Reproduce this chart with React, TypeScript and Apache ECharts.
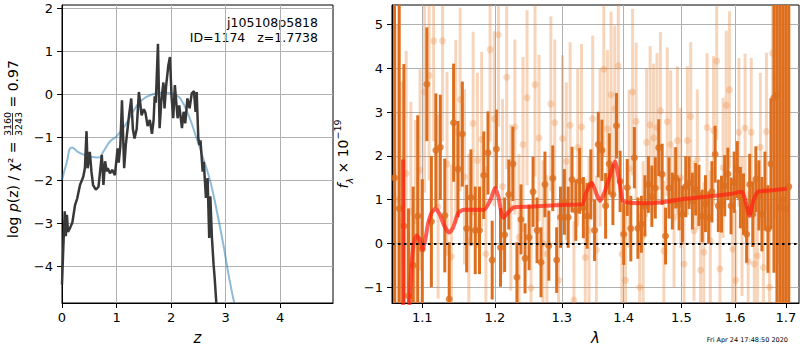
import React, { useEffect, useRef } from 'react';
import * as echarts from 'echarts';

// ---------- left panel: p(z) ----------
const pzZ = [0.0, 0.02, 0.05, 0.07, 0.09, 0.11, 0.15, 0.19, 0.24, 0.28, 0.33, 0.39, 0.42, 0.45, 0.47, 0.51, 0.54, 0.57, 0.62, 0.67, 0.73, 0.76, 0.79, 0.82, 0.84, 0.88, 0.92, 0.97, 1.02, 1.04, 1.07, 1.10, 1.14, 1.17, 1.23, 1.27, 1.30, 1.33, 1.37, 1.41, 1.46, 1.50, 1.53, 1.57, 1.61, 1.65, 1.68, 1.70, 1.72, 1.76, 1.79, 1.82, 1.86, 1.88, 1.91, 1.95, 1.98, 2.01, 2.04, 2.07, 2.12, 2.15, 2.20, 2.23, 2.26, 2.30, 2.34, 2.38, 2.42, 2.45, 2.47, 2.50, 2.52, 2.54, 2.58, 2.60, 2.64, 2.67, 2.70, 2.72, 2.75, 2.78, 2.80, 2.83];
const pzLog = [-4.42, -3.70, -2.72, -3.30, -2.80, -3.20, -3.10, -2.98, -2.57, -2.42, -2.11, -1.92, -1.72, -0.86, -1.72, -1.34, -1.80, -2.11, -2.22, -2.15, -1.41, -2.11, -1.56, -1.79, -1.72, -1.84, -1.76, -1.88, -1.26, -1.59, -1.20, -0.14, -1.72, -1.18, -0.49, -0.10, -0.81, -1.03, -0.81, 0.05, -0.49, -0.35, -0.43, -0.74, -0.60, -0.92, -0.60, -0.05, -0.20, 1.17, -0.79, -0.18, 0.27, -0.33, 0.20, 0.67, 0.86, -0.07, -0.56, 0.21, -0.56, -0.26, -0.79, -0.41, -0.68, -0.10, -0.33, 0.02, 0.07, -0.41, 0.05, -1.03, -1.18, -1.07, -1.80, -1.57, -2.41, -1.95, -3.34, -2.37, -3.34, -3.96, -4.27, -4.85];

const priorZ = [0.0, 0.09, 0.18, 0.33, 0.51, 0.67, 0.76, 0.88, 1.0, 1.16, 1.31, 1.46, 1.65, 1.89, 2.07, 2.17, 2.32, 2.47, 2.59, 2.72, 2.84, 2.96, 3.07, 3.16];
const priorLog = [-2.0, -1.57, -1.24, -1.37, -1.45, -1.47, -1.33, -1.10, -0.98, -0.72, -0.39, -0.14, -0.01, 0.04, -0.02, -0.10, -0.49, -1.03, -1.49, -2.03, -2.72, -3.50, -4.30, -4.85];

const zTicks = [0, 1, 2, 3, 4];
const logTicks = [-4, -3, -2, -1, 0, 1, 2];

// ---------- right panel: spectrum ----------
const darkStart = 1.064;
const darkStep = 0.006;
const darkFlux = [1.5, 0.8, 0.4, -1.2, -0.5, 0.63, -0.13, 3.64, 0.5, 2.13,
  2.20, 0.64, -1.27, 2.76, 1.70, 2.50, 0.34, 1.05, 0.30, 0.3,
  1.56, 2.07, -0.38, 2.16, -0.09, 0.2, 1.12, 1.82, -0.77, 0.55,
  -0.34, 0.14, 1.18, 0.30, -0.43, 1.35, -0.05, 1.49, -0.38, 0.6,
  0.95, 0.6, 1.46, 0.76, 1.43, 0.82, 0.63, 1.35, 0.3, 2.26,
  2.13, 0.86, 1.82, 1.12, 2.69, 1.42, 0.21, 1.28, 0.34, 1.96,
  0.35, 0.44, 0.86, 1.35, 1.08, 1.27, 2.19, 1.58, 0.17, 1.27,
  0.97, 1.5, 0.9, 0.67, 1.3, 1.39, 0.97, 1.24, 1.1, 0.63,
  0.91, 0.59, 1.18, 2.04, 0.86, 0.90, 1.32, 1.59, 0.86, 1.4,
  1.69, 1.05, 0.9, 0.21, 1.35, 0.67, 1.47, 1.1, 0.67, 1.2,
  0.33, 1.82, 3.33, 3.40, 0.82, 1.0, 0.8, 1.30];
const darkErr = [5, 5, 3.7, 2.0, 1.8, 2.3, 1.6, 1.3, 1.5, 1.3,
  1.2, 1.3, 1.3, 1.35, 1.1, 1.2, 1.0, 1.1, 1.0, 1.0,
  1.0, 0.95, 0.9, 0.9, 0.9, 0.85, 0.8, 0.85, 0.8, 0.8,
  0.8, 0.75, 0.8, 0.75, 0.8, 0.75, 0.8, 0.75, 0.75, 0.7,
  0.75, 0.7, 0.75, 0.7, 0.75, 0.7, 0.75, 0.8, 0.7, 0.75,
  0.7, 0.75, 0.7, 0.7, 0.75, 0.7, 0.7, 0.65, 0.75, 0.7,
  0.7, 0.65, 0.7, 0.65, 0.7, 0.7, 0.65, 0.7, 0.65, 0.7,
  0.65, 0.7, 0.6, 0.65, 0.7, 0.6, 0.65, 0.6, 0.7, 0.6,
  0.65, 0.6, 0.7, 0.65, 0.6, 0.65, 0.7, 0.6, 0.65, 0.7,
  0.65, 0.7, 0.7, 0.65, 0.7, 0.75, 0.75, 0.8, 0.85, 0.9,
  1.0, 1.5, 4.0, 5.0, 6.0, 6.0, 7.0, 6.0];

const lightStart = 1.067;
const lightStep = 0.006;
const lightFlux = [1.0, 0.5, 1.6, 0.74, 0.52, 1.68, 3.46, 3.84, 4.63, 0.84,
  4.63, 1.82, -0.3, 2.55, 3.29, 1.52, 0.05, 2.74, 1.9, 2.38,
  -0.24, 4.43, 2.85, 4.77, 1.3, 3.80, 0.82, 2.66, 0.14, 2.26,
  3.33, -1.02, 3.63, 2.41, 0.0, -0.24, 3.19, 2.76, -0.84, 2.4,
  1.88, 2.7, -1.29, 2.19, 2.66, -0.32, 0.29, 2.85, -0.15, 2.19,
  3.98, 2.62, 3.40, 3.08, 4.06, -0.24, -0.84, 1.71, 3.46, 2.79,
  -1.0, 0.18, 2.31, 2.71, 2.41, 2.65, 3.03, -0.17, 2.78, 2.26,
  0.6, 2.35, 1.5, -0.47, 2.35, 2.90, 0.29, 1.92, -0.61, -0.2,
  2.65, 0.06, 2.58, 4.17, -0.58, 1.73, 3.16, 3.51, -0.13, -0.84,
  2.54, 0.40, 2.64, -0.41, 2.54, -0.47, -0.28, 2.2, -0.55, 2.56,
  -1.0, 4.35, 3.78, 3.55, 1.0, 0.5, 1.5];
const lightErr = [4, 3.2, 2.8, 2.5, 2.3, 2.3, 2.3, 2.4, 2.3, 2.1,
  2.3, 2.1, 2.1, 2.1, 2.1, 2.0, 2.0, 2.1, 2.0, 2.0,
  2.0, 2.1, 2.0, 2.1, 2.0, 2.1, 1.9, 2.0, 1.9, 2.0,
  2.0, 1.9, 2.1, 1.9, 1.9, 1.8, 2.0, 1.9, 1.8, 1.9,
  1.8, 1.9, 1.8, 1.8, 1.9, 1.8, 1.7, 1.9, 1.7, 1.8,
  2.0, 1.8, 1.9, 1.9, 2.0, 1.7, 1.7, 1.8, 1.9, 1.8,
  1.7, 1.7, 1.7, 1.8, 1.7, 1.7, 1.8, 1.6, 1.7, 1.7,
  1.6, 1.7, 1.6, 1.6, 1.7, 1.7, 1.6, 1.6, 1.6, 1.6,
  1.7, 1.6, 1.7, 1.8, 1.6, 1.6, 1.7, 1.8, 1.6, 1.6,
  1.7, 1.6, 1.7, 1.6, 1.7, 1.6, 1.6, 1.7, 1.7, 1.8,
  1.9, 2.3, 3.2, 4.0, 5.0, 5.0, 5.0];

const modelLam = [1.0749, 1.0759, 1.0815, 1.0855, 1.0885, 1.0925, 1.0965, 1.1005, 1.1040, 1.1075, 1.1118, 1.1175, 1.1230, 1.1295, 1.1360, 1.1410, 1.1485, 1.1560, 1.1700, 1.1845, 1.1939, 1.2000, 1.2048, 1.2121, 1.2267, 1.2500, 1.3000, 1.3325, 1.3382, 1.3474, 1.3555, 1.3609, 1.3690, 1.3789, 1.3856, 1.3939, 1.3986, 1.4107, 1.4400, 1.4700, 1.5000, 1.5300, 1.5600, 1.5900, 1.6126, 1.6222, 1.6273, 1.6351, 1.6437, 1.6560, 1.7018];
const modelFlux = [1.92, -3.0, -2.0, -0.6, -0.02, 0.18, 0.10, -0.15, 0.10, 0.44, 0.68, 0.80, 0.67, 0.40, 0.25, 0.35, 0.70, 0.77, 0.77, 0.77, 1.01, 1.27, 1.08, 0.59, 0.82, 0.84, 0.88, 0.90, 1.16, 1.39, 1.12, 0.97, 1.20, 1.62, 1.88, 1.31, 0.97, 0.93, 0.92, 0.95, 1.01, 1.05, 1.09, 1.13, 1.18, 0.86, 0.63, 0.97, 1.18, 1.20, 1.25];

const lamTicks = [1.1, 1.2, 1.3, 1.4, 1.5, 1.6, 1.7];
const fluxTicks = [-1, 0, 1, 2, 3, 4, 5];

const FONT = 'DejaVu Sans';
const minus = (v: number) => (v < 0 ? '\u2212' + Math.abs(v) : String(v));

function errBarRenderer(color: string, width: number, ymin: number, ymax: number) {
  return (params: any, api: any) => {
    const x = api.value(0);
    const y = api.value(1);
    const e = api.value(2);
    const lo = Math.max(ymin, y - e);
    const hi = Math.min(ymax, y + e);
    const a = api.coord([x, lo]);
    const b = api.coord([x, hi]);
    return {
      type: 'line',
      shape: { x1: a[0], y1: a[1], x2: b[0], y2: b[1] },
      style: { stroke: color, lineWidth: width },
    };
  };
}

export default function App() {
  const ref = useRef<HTMLDivElement>(null);
  useEffect(() => {
    const chart = echarts.init(ref.current!, null, { renderer: 'svg' });
    const FMIN = -1.36, FMAX = 5.45;
    const darkData = darkFlux.map((f, i) => [Math.log(darkStart + darkStep * i), f, darkErr[i]]);
    const lightData = lightFlux.map((f, i) => [Math.log(lightStart + lightStep * i), f, lightErr[i]]);
    const axisBase = {
      axisLine: { show: true, onZero: false, lineStyle: { color: '#000', width: 1 } },
      axisTick: { show: true, length: 5, lineStyle: { color: '#000' } },
      splitLine: { show: true, lineStyle: { color: '#b0b0b0', width: 1 } },
    };
    const labelBase = { color: '#000', fontSize: 13, fontFamily: FONT };
    const option: any = {
      animation: false,
      textStyle: { fontFamily: FONT },
      grid: [
        { left: 62, top: 5, width: 271, height: 299, show: true, borderColor: '#000', borderWidth: 1 },
        { left: 392, top: 5, width: 407, height: 299, show: true, borderColor: '#000', borderWidth: 1 },
      ],
      xAxis: [
        {
          ...axisBase, gridIndex: 0, type: 'value', min: 0, max: 4.97,
          axisTick: { ...axisBase.axisTick, customValues: zTicks },
          axisLabel: { ...labelBase, margin: 8, customValues: zTicks, formatter: minus },
          name: 'z', nameLocation: 'middle', nameGap: 27,
          nameTextStyle: { fontSize: 15, fontStyle: 'italic', fontFamily: FONT, color: '#000' },
        },
        {
          ...axisBase, gridIndex: 1, type: 'value', min: Math.log(1.0608), max: Math.log(1.727),
          axisTick: { ...axisBase.axisTick, customValues: lamTicks.map(Math.log) },
          axisLabel: { ...labelBase, margin: 8, customValues: lamTicks.map(Math.log), formatter: (v: number) => Math.exp(v).toFixed(1) },
          name: 'λ', nameLocation: 'middle', nameGap: 27,
          nameTextStyle: { fontSize: 15, fontStyle: 'italic', fontFamily: FONT, color: '#000' },
        },
      ],
      yAxis: [
        {
          ...axisBase, gridIndex: 0, type: 'value', min: -4.85, max: 2.07,
          axisTick: { ...axisBase.axisTick, customValues: logTicks },
          axisLabel: { ...labelBase, margin: 9, customValues: logTicks, formatter: minus },
        },
        {
          ...axisBase, gridIndex: 1, type: 'value', min: FMIN, max: FMAX,
          axisTick: { ...axisBase.axisTick, customValues: fluxTicks },
          axisLabel: { ...labelBase, margin: 9, customValues: fluxTicks, formatter: minus },
        },
      ],
      series: [
        {
          type: 'line', xAxisIndex: 0, yAxisIndex: 0, smooth: true, showSymbol: false, clip: true,
          data: priorZ.map((z, i) => [z, priorLog[i]]),
          lineStyle: { color: 'rgba(31,119,180,0.5)', width: 2 },
        },
        {
          type: 'line', xAxisIndex: 0, yAxisIndex: 0, showSymbol: false, clip: true,
          data: pzZ.map((z, i) => [z, pzLog[i]]),
          lineStyle: { color: '#383838', width: 2.5 },
        },
        {
          type: 'custom', xAxisIndex: 1, yAxisIndex: 1, clip: true,
          renderItem: errBarRenderer('rgba(232,128,50,0.33)', 3, FMIN, FMAX),
          encode: { x: 0, y: 1 }, data: lightData, z: 2,
        },
        {
          type: 'scatter', xAxisIndex: 1, yAxisIndex: 1, symbolSize: 7, clip: true,
          data: lightData.map((d) => [d[0], d[1]]),
          itemStyle: { color: 'rgba(232,128,50,0.35)' }, z: 2,
        },
        {
          type: 'custom', xAxisIndex: 1, yAxisIndex: 1, clip: true,
          renderItem: errBarRenderer('#dc6e1e', 3, FMIN, FMAX),
          encode: { x: 0, y: 1 }, data: darkData, z: 3,
        },
        {
          type: 'scatter', xAxisIndex: 1, yAxisIndex: 1, symbolSize: 7, clip: true,
          data: darkData.map((d) => [d[0], d[1]]),
          itemStyle: { color: '#dc6e1e' }, z: 3,
        },
        {
          type: 'line', xAxisIndex: 1, yAxisIndex: 1, showSymbol: false, clip: true, smooth: 0.2, z: 4,
          data: modelLam.map((l, i) => [Math.log(l), modelFlux[i]]),
          lineStyle: { color: 'rgba(255,35,20,0.72)', width: 4 },
          markLine: {
            silent: true, symbol: 'none', label: { show: false },
            data: [{ yAxis: 0 }],
            lineStyle: { color: '#000', type: [2.5, 3.5], width: 2 },
          },
        },
      ],
      graphic: [
        {
          type: 'group', x: 13, y: 143, rotation: Math.PI / 2,
          children: [
            {
              type: 'text', x: 6, y: 0,
              style: {
                text: '{n|log }{i|p}{n|(z) / χ² = }',
                rich: {
                  n: { fontSize: 14, fontFamily: FONT, fill: '#000' },
                  i: { fontSize: 14, fontFamily: FONT, fontStyle: 'italic', fill: '#000' },
                },
                align: 'right', verticalAlign: 'middle',
              },
            },
            { type: 'text', x: 19, y: -6, style: { text: '3160', fontSize: 9.5, fontFamily: FONT, fill: '#000', align: 'center', verticalAlign: 'middle' } },
            { type: 'text', x: 19, y: 5, style: { text: '3243', fontSize: 9.5, fontFamily: FONT, fill: '#000', align: 'center', verticalAlign: 'middle' } },
            { type: 'line', shape: { x1: 8, y1: -0.5, x2: 30, y2: -0.5 }, style: { stroke: '#000', lineWidth: 0.8 } },
            { type: 'text', x: 31, y: 0, style: { text: ' = 0.97', fontSize: 14, fontFamily: FONT, fill: '#000', align: 'left', verticalAlign: 'middle' } },
          ],
        },
        {
          type: 'text', x: 343, y: 154, rotation: Math.PI / 2,
          style: {
            text: '{i|f}{sub|λ}{n| × 10}{sup|−19}',
            rich: {
              n: { fontSize: 14, fontFamily: FONT, fill: '#000', lineHeight: 22 },
              i: { fontSize: 14, fontFamily: FONT, fontStyle: 'italic', fill: '#000', lineHeight: 22 },
              sub: { fontSize: 9.5, fontFamily: FONT, fontStyle: 'italic', fill: '#000', verticalAlign: 'bottom', lineHeight: 22 },
              sup: { fontSize: 9.5, fontFamily: FONT, fill: '#000', verticalAlign: 'top', lineHeight: 22 },
            },
            align: 'center', verticalAlign: 'middle',
          },
        },
        { type: 'text', x: 318, y: 22, style: { text: 'j105108p5818', fontSize: 12.5, fontFamily: FONT, fill: '#000', align: 'right', verticalAlign: 'middle' } },
        { type: 'text', x: 318, y: 37, style: { text: 'ID=1174   z=1.7738', fontSize: 12.5, fontFamily: FONT, fill: '#000', align: 'right', verticalAlign: 'middle' } },
        { type: 'text', x: 788, y: 339.5, style: { text: 'Fri Apr 24 17:48:50 2020', fontSize: 6.5, fontFamily: FONT, fill: '#000', align: 'right', verticalAlign: 'middle' } },
      ],
    };
    chart.setOption(option);
    return () => chart.dispose();
  }, []);
  return <div ref={ref} style={{ position: 'absolute', left: 0, top: 0, width: 800, height: 350, background: '#fff' }} />;
}
